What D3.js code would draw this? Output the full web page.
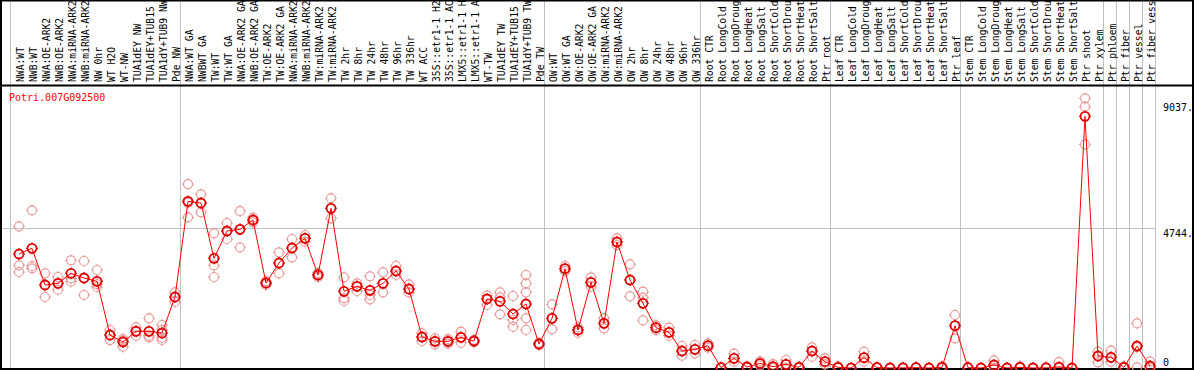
<!DOCTYPE html>
<html><head><meta charset="utf-8">
<script src="https://cdn.jsdelivr.net/npm/d3@7"></script>
<style>
html,body{margin:0;padding:0;background:#fff;}
svg{display:block;}
text{font-family:"DejaVu Sans Mono",monospace;font-size:10px;}
</style></head>
<body>
<script>
const geneId = "Potri.007G092500";

const samples = [
 "NWA:WT","NWB:WT","NWA:OE-ARK2","NWB:OE-ARK2","NWA:miRNA-ARK2","NWB:miRNA-ARK2","NW 0hr","WT H2O","WT-NW","TUA1dEY NW","TUA1dEY+TUB15","TUA1dY+TUB9 NW","Pde NW",
 "NWA:WT GA","NWBWT GA","TW:WT","TW:WT GA","NWA:OE-ARK2 GA","NWB:OE-ARK2 GA","TW:OE-ARK2","TW:OE-ARK2 GA","NWA:miRNA-ARK2","NWB:miRNA-ARK2","TW:miRNA-ARK2","TW:miRNA-ARK2","TW 2hr","TW 8hr","TW 24hr","TW 48hr","TW 96hr","TW 336hr","WT ACC","35S::etr1-1 H2","35S::etr1-1 AC","LMX5::etr1-1 H","LMX5::etr1-1 A","WT-TW","TUA1dEY TW","TUA1dEY+TUB15","TUA1dY+TUB9 TW","Pde TW",
 "OW:WT","OW:WT GA","OW:OE-ARK2","OW:OE-ARK2 GA","OW:miRNA-ARK2","OW:miRNA-ARK2","OW 2hr","OW 8hr","OW 24hr","OW 48hr","OW 96hr","OW 336hr",
 "Root CTR","Root LongCold","Root LongDroug","Root LongHeat","Root LongSalt","Root ShortCold","Root ShortDrou","Root ShortHeat","Root ShortSalt","Ptr root",
 "Leaf CTR","Leaf LongCold","Leaf LongDroug","Leaf LongHeat","Leaf LongSalt","Leaf ShortCold","Leaf ShortDrou","Leaf ShortHeat","Leaf ShortSalt","Ptr leaf",
 "Stem CTR","Stem LongCold","Stem LongDroug","Stem LongHeat","Stem LongSalt","Stem ShortCold","Stem ShortDrou","Stem ShortHeat","Stem ShortSalt","Ptr shoot",
 "Ptr xylem","Ptr phloem","Ptr fiber","Ptr vessel","Ptr fiber vess"
];

const means = [
 3873,4065,2820,2876,3216,3057,2944,1121,883,1246,1246,1189,2412,
 5662,5605,3725,4654,4710,5028,2887,3567,4076,4405,3159,5424,2604,2774,2638,2876,3295,2684,1053,906,906,1042,917,2344,2265,1834,2174,815,
 1687,3374,1291,2910,1517,4280,2989,2197,1370,1212,577,634,
 759,10,328,34,158,45,124,23,577,215,
 23,0,351,10,0,5,10,0,20,1438,
 10,0,102,0,20,0,5,30,0,8549,
 408,363,20,747,68
];

const replicates = [
 [4813,3488,3261],[5356,3465,3386],[3216,2830,2412],[3091,2876,2661],[3657,3046,2933],[3635,3046,2480],[3329,2853,2752],[1291,1121,950],[985,940,724],[1382,1258,1098],[1687,1098,1042],[1461,1290,1030,951],[2571,2412,2253],
 [6250,5620,5118],[5900,5605,5288],[4575,3488,3091],[4926,4654,4382],[5333,4710,4099],[5107,5028,4950],[2950,2887,2820],[3929,3567,3216],[4382,4076,3759],[4518,4405,4291],[3230,3159,3090],[5764,5424,5084],[3080,2367,2276],[2876,2774,2616],[3114,2480,2333],[3250,2876,2571],[3465,3295,3159],[2842,2684,2571],[1178,1053,917],[1008,906,804],[980,906,830],[1234,1042,861],[960,917,874],[2457,2344,2140],[2571,2400,1823],[2446,1631,1404],[3159,2876,2571,1687,1291],[860,815,780],
 [2163,1687,1314],[3465,3374,3290],[1380,1291,1200],[3080,2910,2763],[1687,1517,1348],[4405,4280,4178],[3522,2989,2435],[2593,2390,1619],[1450,1370,1290],[1370,1212,1098],[747,577,419],[781,634,498],
 [840,759,690],[20,10,0],[487,328,215],[60,34,10],[230,158,90],[130,45,0],[272,124,0],[50,23,0],[702,577,385],[330,215,120],
 [60,23,0],[0,0,0],[555,351,215],[40,10,0],[0,0,0],[20,5,0],[40,10,0],[0,0,0],[60,20,0],[1800,1438,1008],
 [30,10,0],[0,0,0],[260,102,0],[0,0,0],[60,20,0],[0,0,0],[20,5,0],[200,30,0],[0,0,0],[9161,8877,7598],
 [555,408,193],[588,363,214],[60,20,0],[1518,700,24],[214,60,0]
];

const groupEnds = [-1,12,40,52,62,72,83,84,85,86,87];
const yTicks = [0,4744,9037];
const yTickLabels = ["0","4744.","9037."];

const W = 1194, H = 370;
const svg = d3.select("body").append("svg").attr("width",W).attr("height",H);

const x = d3.scaleLinear().domain([0, samples.length-1]).range([19, 1150]);
const y = d3.scaleLinear().domain([0, 9037]).range([368, 102]);

const labelBottom = 82, headerLine = 85, plotBottom = 369, plotRight = 1156;

// gray vertical group lines
svg.append("g").selectAll("line").data(groupEnds).join("line")
  .attr("x1", d => d === -1 ? x(0) - 9 : x(d) + 5.5)
  .attr("x2", d => d === -1 ? x(0) - 9 : x(d) + 5.5)
  .attr("y1", 0).attr("y2", plotBottom)
  .attr("stroke", "#c0c0c0").attr("stroke-width", 1).attr("shape-rendering","crispEdges");

// horizontal grid line at middle tick
svg.append("g").selectAll("line").data(yTicks.filter(t => t === 4744)).join("line")
  .attr("x1", 1).attr("x2", plotRight)
  .attr("y1", d => Math.round(y(d)) + 0.5).attr("y2", d => Math.round(y(d)) + 0.5)
  .attr("stroke", "#c0c0c0").attr("stroke-width", 1);

// frame
svg.append("rect").attr("x",1).attr("y",0.5).attr("width",W-2).attr("height",plotBottom-0.5)
  .attr("fill","none").attr("stroke","#000").attr("stroke-width",2);
svg.append("line").attr("x1",0).attr("x2",W).attr("y1",headerLine+0.5).attr("y2",headerLine+0.5)
  .attr("stroke","#000").attr("stroke-width",2);

// sample labels (rotated)
svg.append("g").selectAll("text").data(samples).join("text")
  .attr("transform", (d,i) => `translate(${x(i)+5},${labelBottom}) rotate(-90)`)
  .attr("text-anchor","start")
  .attr("fill","#000")
  .style("font-size","9.7px")
  .text(d => d);

// y tick labels
svg.append("g").selectAll("text").data(yTicks).join("text")
  .attr("x", 1163)
  .attr("y", d => d === 0 ? 366 : y(d) + 9)
  .attr("fill","#000")
  .text((d,i) => yTickLabels[i]);

// gene id
svg.append("text").attr("x",9).attr("y",101).attr("fill","#f00").text(geneId);

function marker(g, cx, cy, color, sw){
  g.append("circle").attr("cx",cx).attr("cy",cy).attr("r",4.5)
   .attr("fill","none").attr("stroke",color).attr("stroke-width",sw);
  const t = [[0,-1],[0,1],[-1,0],[1,0]];
  t.forEach(([dx,dy]) => {
    g.append("line")
     .attr("x1", cx + dx*4.5).attr("y1", cy + dy*4.5)
     .attr("x2", cx + dx*6).attr("y2", cy + dy*6)
     .attr("stroke", color).attr("stroke-width", 1);
  });
}

// replicates
const repG = svg.append("g");
replicates.forEach((reps,i) => reps.forEach(v => marker(repG, x(i), y(v), "#e89a9a", 1.2)));

// mean line
svg.append("path").datum(means)
  .attr("d", d3.line().x((d,i) => x(i)).y(d => y(d)))
  .attr("fill","none").attr("stroke","#f00").attr("stroke-width",1);

// mean markers
const meanG = svg.append("g");
means.forEach((v,i) => marker(meanG, x(i), y(v), "#e00000", 1.8));
</script>
</body></html>
